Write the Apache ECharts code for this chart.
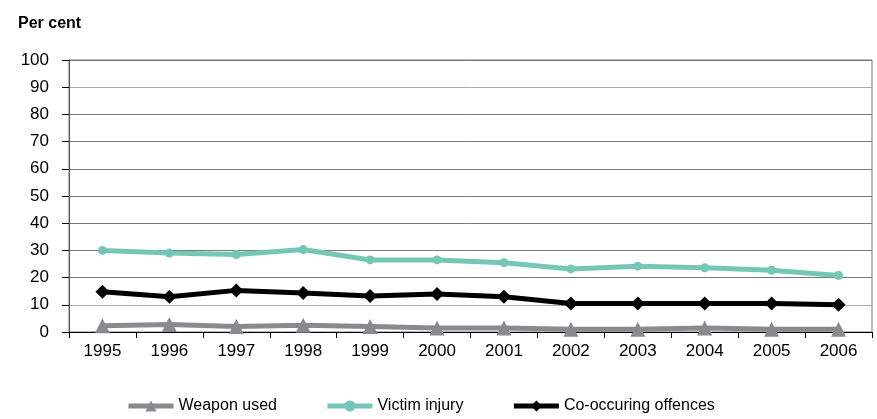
<!DOCTYPE html>
<html><head><meta charset="utf-8">
<script src="https://cdn.jsdelivr.net/npm/echarts@6/dist/echarts.min.js"></script>
<style>html,body{margin:0;padding:0;background:#fff}#c{width:877px;height:419px}</style>
</head><body><div id="c"></div>
<script>
const years = ['1995','1996','1997','1998','1999','2000','2001','2002','2003','2004','2005','2006'];
const weaponUsed = [2.3, 2.8, 2.0, 2.5, 2.0, 1.5, 1.5, 1.0, 1.0, 1.5, 1.0, 1.0];
const victimInjury = [30.0, 29.0, 28.5, 30.3, 26.5, 26.5, 25.5, 23.2, 24.2, 23.6, 22.7, 20.8];
const coOccuring = [14.8, 13.0, 15.3, 14.3, 13.2, 14.0, 13.0, 10.5, 10.5, 10.5, 10.5, 10.0];
const yTicks = [0,10,20,30,40,50,60,70,80,90,100];

const chart = echarts.init(document.getElementById('c'));
const font = 'Liberation Sans, Arial, sans-serif';
chart.setOption({
  animation: false,
  textStyle: {fontFamily: font},
  title: {text: 'Per cent', left: 13, top: 11, textStyle: {fontFamily: font, fontSize: 16, fontWeight: 'bold', color: '#000'}},
  grid: {left: 69, right: 5, top: 60, bottom: 87, show: true, borderColor: '#777', borderWidth: 1},
  legend: {
    bottom: 0, left: 121, itemWidth: 45, itemHeight: 14, itemGap: 48,
    lineStyle: {width: 5},
    textStyle: {fontFamily: font, fontSize: 16, color: '#000'},
    data: ['Weapon used', 'Victim injury', 'Co-occuring offences']
  },
  xAxis: {
    type: 'category', data: years, boundaryGap: true,
    axisLine: {lineStyle: {color: '#000', width: 1}},
    axisTick: {show: true, length: 6, lineStyle: {color: '#000'}},
    axisLabel: {color: '#000', fontSize: 17, margin: 11, fontFamily: font}
  },
  yAxis: {
    type: 'value', min: 0, max: 100, interval: 10,
    axisLine: {show: true, lineStyle: {color: '#555', width: 1}},
    axisTick: {show: true, length: 7, inside: false, lineStyle: {color: '#000'}},
    axisLabel: {color: '#000', fontSize: 17, margin: 20, fontFamily: font},
    splitLine: {show: true, lineStyle: {color: ['#777','#aaa','#777','#777','#777','#777','#777','#777','#777','#aaa','#777'], width: 1}}
  },
  series: [
    {name: 'Weapon used', type: 'line', data: weaponUsed, symbol: 'triangle', symbolSize: 15,
     lineStyle: {color: '#8a8a8e', width: 5}, itemStyle: {color: '#8a8a8e'}},
    {name: 'Victim injury', type: 'line', data: victimInjury, symbol: 'circle', symbolSize: 9,
     lineStyle: {color: '#74c7b7', width: 5}, itemStyle: {color: '#74c7b7'}},
    {name: 'Co-occuring offences', type: 'line', data: coOccuring, symbol: 'diamond', symbolSize: 14,
     lineStyle: {color: '#000', width: 5}, itemStyle: {color: '#000'}}
  ]
});
</script></body></html>
